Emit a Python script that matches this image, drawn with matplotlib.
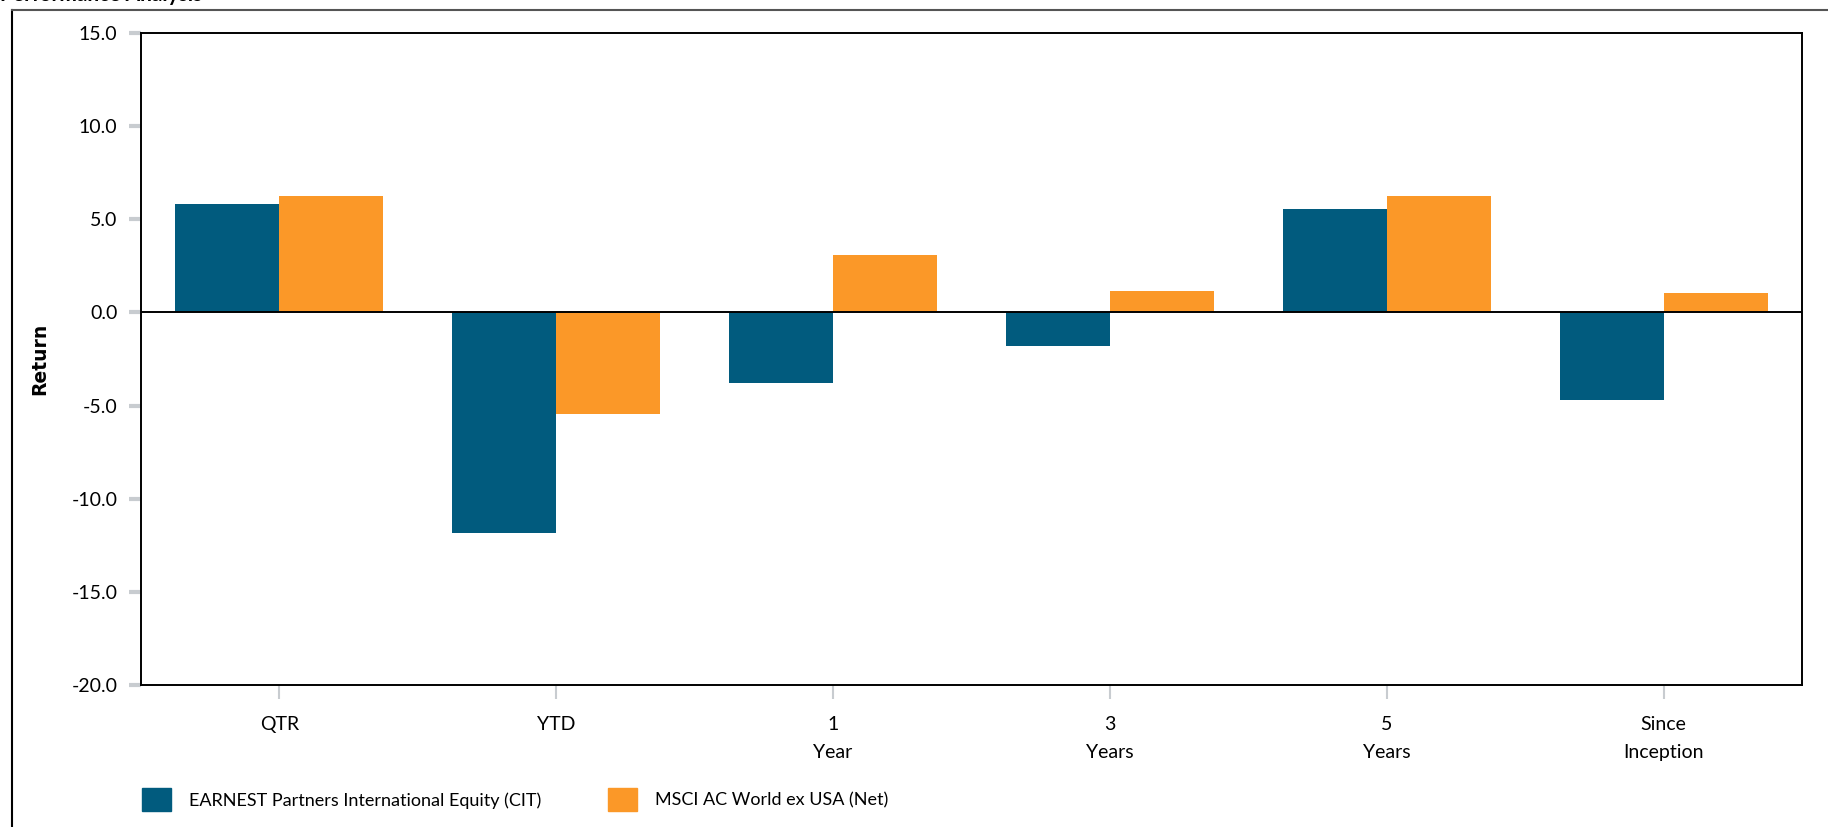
import matplotlib
matplotlib.use('Agg')
import matplotlib.pyplot as plt
from matplotlib.lines import Line2D
from matplotlib.patches import Patch
import numpy as np

plt.rcParams['font.family'] = ['Lato', 'DejaVu Sans']

categories = ['QTR', 'YTD', '1\nYear', '3\nYears', '5\nYears', 'Since\nInception']
earnest = [5.85, -11.85, -3.77, -1.82, 5.57, -4.72]
msci = [6.28, -5.47, 3.08, 1.15, 6.28, 1.05]
series_names = ['EARNEST Partners International Equity (CIT)', 'MSCI AC World ex USA (Net)']
yticks = [15.0, 10.0, 5.0, 0.0, -5.0, -10.0, -15.0, -20.0]

blue = '#015b7e'
orange = '#fb9828'

fig = plt.figure(figsize=(18.28, 8.27), dpi=100)
ax = fig.add_axes([0.0771, 0.1717, 0.9087, 0.7883])

x = np.arange(len(categories))
w = 0.376
ax.bar(x - w / 2, earnest, width=w, color=blue, zorder=2)
ax.bar(x + w / 2, msci, width=w, color=orange, zorder=2)
ax.axhline(0, color='black', lw=1.4, zorder=3)

ax.set_xlim(-0.5, len(categories) - 0.5)
ax.set_ylim(-20, 15)
ax.set_yticks(yticks)
ax.set_yticklabels([f'{v:.1f}' for v in yticks], fontsize=14)
ax.set_xticks(x)
ax.set_xticklabels(categories, fontsize=14, linespacing=1.85, va='top')

ax.tick_params(axis='y', direction='out', length=9, width=3, color='#c8ccd0', pad=8)
ax.tick_params(axis='x', direction='out', length=10, width=1.5, color='#c8ccd0', pad=12)
for s in ax.spines.values():
    s.set_color('black')
    s.set_linewidth(1.4)

ax.set_ylabel('Return', fontsize=13.5, fontweight='bold', family='DejaVu Sans', labelpad=16)

handles = [Patch(color=blue), Patch(color=orange)]
fig.legend(handles, series_names, loc='center left', bbox_to_anchor=(0.069, 0.033),
           ncol=2, frameon=False, fontsize=13, handlelength=1.6, handleheight=1.6,
           handletextpad=1.0, columnspacing=3.7)

# outer frame of the panel
fig.add_artist(Line2D([12 / 1828, 12 / 1828], [0, 1 - 10 / 827], color='black', lw=1.5))
fig.add_artist(Line2D([12 / 1828, 1], [1 - 10 / 827, 1 - 10 / 827], color='#555555', lw=1.5))

fig.text(0.0, 1 - 5 / 827, 'Performance Analysis', fontsize=15, fontweight='bold', va='bottom', ha='left')

fig.savefig('out.png', dpi=100)
